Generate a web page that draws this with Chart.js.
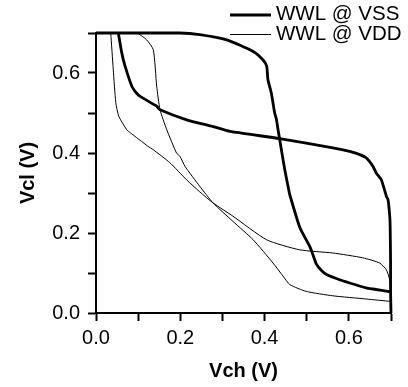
<!DOCTYPE html>
<html>
<head>
<meta charset="utf-8">
<script src="https://cdn.jsdelivr.net/npm/chart.js@4.4.1/dist/chart.umd.min.js"></script>
<style>
  html, body { margin: 0; padding: 0; background: #fff; }
</style>
</head>
<body>
<canvas id="chart" width="408" height="387"></canvas>
<script>
// series labels
const vssLabel = 'WWL @ VSS';
const vddLabel = 'WWL @ VDD';

// WWL @ VSS, first branch (drops near Vch = 0.05)
const vssAx = [0.053, 0.061, 0.069, 0.085, 0.096, 0.104, 0.144, 0.152, 0.215, 0.278, 0.318, 0.436, 0.562, 0.602, 0.626, 0.641, 0.657, 0.665, 0.677, 0.689, 0.693, 0.697, 0.698, 0.699, 0.699, 0.700];
const vssAy = [0.700, 0.651, 0.617, 0.567, 0.550, 0.542, 0.517, 0.508, 0.483, 0.466, 0.454, 0.436, 0.413, 0.404, 0.396, 0.388, 0.367, 0.350, 0.333, 0.292, 0.283, 0.242, 0.217, 0.126, 0.051, 0.000];

// WWL @ VSS, second branch (drops near Vch = 0.43)
const vssBx = [0.000, 0.199, 0.246, 0.310, 0.373, 0.396, 0.405, 0.408, 0.416, 0.424, 0.428, 0.432, 0.436, 0.442, 0.448, 0.456, 0.460, 0.484, 0.507, 0.515, 0.523, 0.535, 0.547, 0.578, 0.602, 0.641, 0.657, 0.699];
const vssBy = [0.700, 0.700, 0.696, 0.683, 0.654, 0.633, 0.617, 0.583, 0.550, 0.500, 0.485, 0.458, 0.433, 0.395, 0.358, 0.315, 0.295, 0.213, 0.167, 0.145, 0.122, 0.106, 0.096, 0.083, 0.075, 0.063, 0.060, 0.053];

// WWL @ VDD, first branch (drops near Vch = 0.04)
const vddAx = [0.035, 0.041, 0.047, 0.054, 0.073, 0.081, 0.123, 0.136, 0.175, 0.215, 0.246, 0.278, 0.325, 0.405, 0.483, 0.562, 0.633, 0.673, 0.689, 0.697, 0.699];
const vddAy = [0.700, 0.608, 0.526, 0.492, 0.458, 0.451, 0.417, 0.408, 0.376, 0.333, 0.303, 0.275, 0.242, 0.183, 0.158, 0.150, 0.138, 0.125, 0.108, 0.083, 0.058];

// WWL @ VDD, second branch (drops near Vch = 0.15)
const vddBx = [0.000, 0.096, 0.120, 0.136, 0.144, 0.152, 0.168, 0.191, 0.199, 0.211, 0.246, 0.278, 0.325, 0.373, 0.420, 0.444, 0.460, 0.499, 0.562, 0.641, 0.699];
const vddBy = [0.700, 0.700, 0.683, 0.658, 0.567, 0.508, 0.458, 0.400, 0.392, 0.367, 0.317, 0.275, 0.229, 0.183, 0.125, 0.092, 0.071, 0.054, 0.043, 0.035, 0.029];

// axis ticks
const xTickLabels = ['0.0', '', '0.2', '', '0.4', '', '0.6', ''];
const yTickLabels = ['0.0', '', '0.2', '', '0.4', '', '0.6', ''];

const toPoints = (xs, ys) => xs.map((x, i) => ({ x, y: ys[i] }));

const font = '"Liberation Sans", Arial, sans-serif';

function series(label, xs, ys, width) {
    return {
        label,
        data: toPoints(xs, ys),
        showLine: true,
        borderColor: '#000',
        backgroundColor: '#000',
        borderWidth: width,
        pointRadius: 0,
        tension: 0.2,
        borderJoinStyle: 'round',
        borderCapStyle: 'butt',
        clip: false
    };
}

// two-row legend in the top right corner, one entry per label
const cornerLegend = {
    id: 'cornerLegend',
    afterDraw(chart) {
        const ctx = chart.ctx;
        const seen = [];
        chart.data.datasets.forEach(ds => {
            if (!seen.find(s => s.label === ds.label)) seen.push(ds);
        });
        ctx.save();
        ctx.font = '20.5px ' + font;
        ctx.fillStyle = '#000';
        ctx.textBaseline = 'alphabetic';
        seen.forEach((ds, i) => {
            const y = 15 + i * 19.5;
            ctx.strokeStyle = '#000';
            ctx.lineWidth = ds.borderWidth;
            ctx.beginPath();
            ctx.moveTo(230, y);
            ctx.lineTo(271, y);
            ctx.stroke();
            ctx.fillText(ds.label, 276, y + 5);
        });
        ctx.restore();
    }
};

const axisBase = {
    type: 'linear',
    min: 0,
    max: 0.7,
    border: { display: true, color: '#000', width: 2 },
    grid: {
        drawOnChartArea: false,
        drawTicks: true,
        tickLength: 8,
        tickColor: '#000',
        tickWidth: 2
    }
};

new Chart(document.getElementById('chart'), {
    type: 'scatter',
    data: {
        datasets: [
            series(vssLabel, vssAx, vssAy, 2.8),
            series(vssLabel, vssBx, vssBy, 2.8),
            series(vddLabel, vddAx, vddAy, 1),
            series(vddLabel, vddBx, vddBy, 1)
        ]
    },
    options: {
        responsive: false,
        animation: false,
        devicePixelRatio: 1,
        layout: { padding: { top: 33, right: 17, left: 0, bottom: 0 } },
        plugins: {
            legend: { display: false },
            tooltip: { enabled: false }
        },
        scales: {
            x: {
                ...axisBase,
                position: 'bottom',
                ticks: {
                    stepSize: 0.1,
                    autoSkip: false,
                    maxRotation: 0,
                    padding: 5,
                    color: '#000',
                    font: { family: font, size: 20 },
                    callback: (v, i) => xTickLabels[i]
                },
                title: {
                    display: true,
                    text: 'Vch (V)',
                    color: '#000',
                    font: { family: font, size: 20, weight: 'bold' },
                    padding: { top: 0, bottom: 4 }
                },
                afterFit: s => { s.height = 74; }
            },
            y: {
                ...axisBase,
                position: 'left',
                ticks: {
                    stepSize: 0.1,
                    autoSkip: false,
                    padding: 8,
                    color: '#000',
                    font: { family: font, size: 20 },
                    callback: (v, i) => yTickLabels[i]
                },
                title: {
                    display: true,
                    text: 'Vcl (V)',
                    color: '#000',
                    font: { family: font, size: 20, weight: 'bold' },
                    padding: { top: 16, bottom: 0 }
                },
                afterFit: s => { s.width = 96; }
            }
        }
    },
    plugins: [cornerLegend]
});
</script>
</body>
</html>
